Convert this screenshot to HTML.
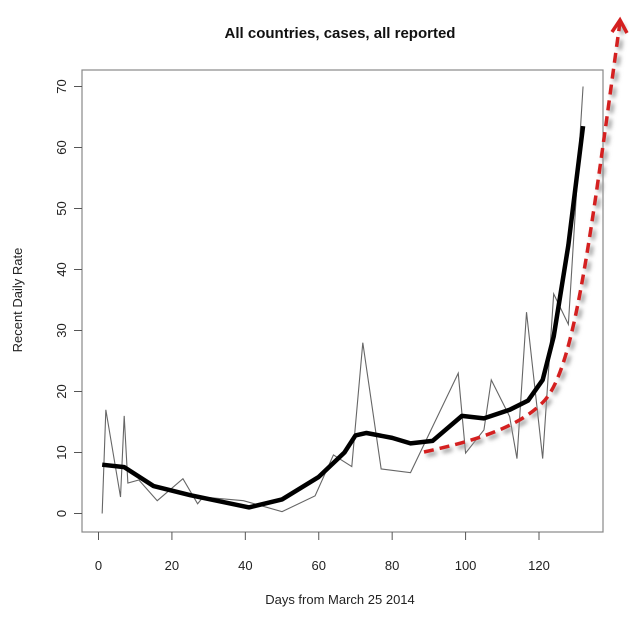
<!DOCTYPE html>
<html><head><meta charset="utf-8"><style>
body{margin:0;background:#fff;}
svg{display:block;font-family:"Liberation Sans",Arial,sans-serif;}
</style></head><body>
<svg width="640" height="626" viewBox="0 0 640 626">
<defs><filter id="sh" x="-20%" y="-20%" width="140%" height="140%"><feGaussianBlur stdDeviation="2"/></filter></defs>
<text x="340" y="38" text-anchor="middle" font-size="15" font-weight="bold" fill="#111">All countries, cases, all reported</text>
<rect x="82" y="70" width="521" height="462" fill="none" stroke="#888" stroke-width="1.2"/>
<g id="axes"></g>
<g id="series"></g>
<text x="340" y="604" text-anchor="middle" font-size="13" fill="#222">Days from March 25 2014</text>
<text transform="translate(22,300) rotate(-90)" text-anchor="middle" font-size="13" fill="#222">Recent Daily Rate</text>
<path d="M424,452 C470,442 520,428 545,400 C575,365 590,240 620,22" fill="none" stroke="#999" stroke-width="4" stroke-dasharray="10,6" filter="url(#sh)" transform="translate(3,3)"/>
<path d="M424,452 C470,442 520,428 545,400 C575,365 590,240 620,22" fill="none" stroke="#d42020" stroke-width="3.5" stroke-dasharray="10,6"/>
<path d="M612,32 L620,20 L627,33" fill="none" stroke="#d42020" stroke-width="3.5"/>
</svg>
<script>
const xTicks=[0,20,40,60,80,100,120];
const yTicks=[0,10,20,30,40,50,60,70];
const rawDays=[1,2,6,7,8,11,16,23,27,28.5,39.5,50,59,64,69,72,77,85,98,100,105,107,112,114,116.6,121,124,128,132];
const rawVals=[0,17,2.7,16,5,5.5,2.1,5.7,1.6,2.7,2.1,0.3,2.9,9.6,7.7,28,7.3,6.7,23,9.9,13.7,21.9,15.9,9,33,9,36,31,70];
const smoothDays=[1,7,15,25,41,50,60,67,70,73,80,85,91,99,105,112,117,121,124,128,132];
const smoothVals=[8,7.6,4.5,3,1,2.3,6,10,12.8,13.2,12.4,11.5,11.9,16,15.6,17,18.5,21.9,29,44,63.5];
const NS="http://www.w3.org/2000/svg";
const X=d=>98.5+d*(539-98.5)/120;
const Y=v=>513.5-v*6.1;
const ax=document.getElementById('axes');
function mk(t,a,p){const e=document.createElementNS(NS,t);for(const k in a)e.setAttribute(k,a[k]);p.appendChild(e);return e;}
xTicks.forEach(t=>{
 const l=mk('line',{x1:X(t),x2:X(t),y1:532,y2:540,stroke:'#555'},ax);
 
 
 const tx=mk('text',{x:X(t),y:570,'text-anchor':'middle','font-size':'13',fill:'#222'},ax);
 tx.textContent=t;
 
 
});
yTicks.forEach(t=>{
 const l=mk('line',{x1:74,x2:82,y1:Y(t),y2:Y(t),stroke:'#555'},ax);
 
 
 const tx=mk('text',{transform:`translate(66,${Y(t)}) rotate(-90)`,'text-anchor':'middle','font-size':'13',fill:'#222'},ax);
 tx.textContent=t;
 
 
});
const s=document.getElementById('series');
const raw=mk('polyline',{points:rawDays.map((d,i)=>X(d)+','+Y(rawVals[i])).join(' '),fill:'none',stroke:'#666','stroke-width':'1.1'},s);


const sm=mk('polyline',{points:smoothDays.map((d,i)=>X(d)+','+Y(smoothVals[i])).join(' '),fill:'none',stroke:'#000','stroke-width':'4.5','stroke-linejoin':'round'},s);


</script>
</body></html>
